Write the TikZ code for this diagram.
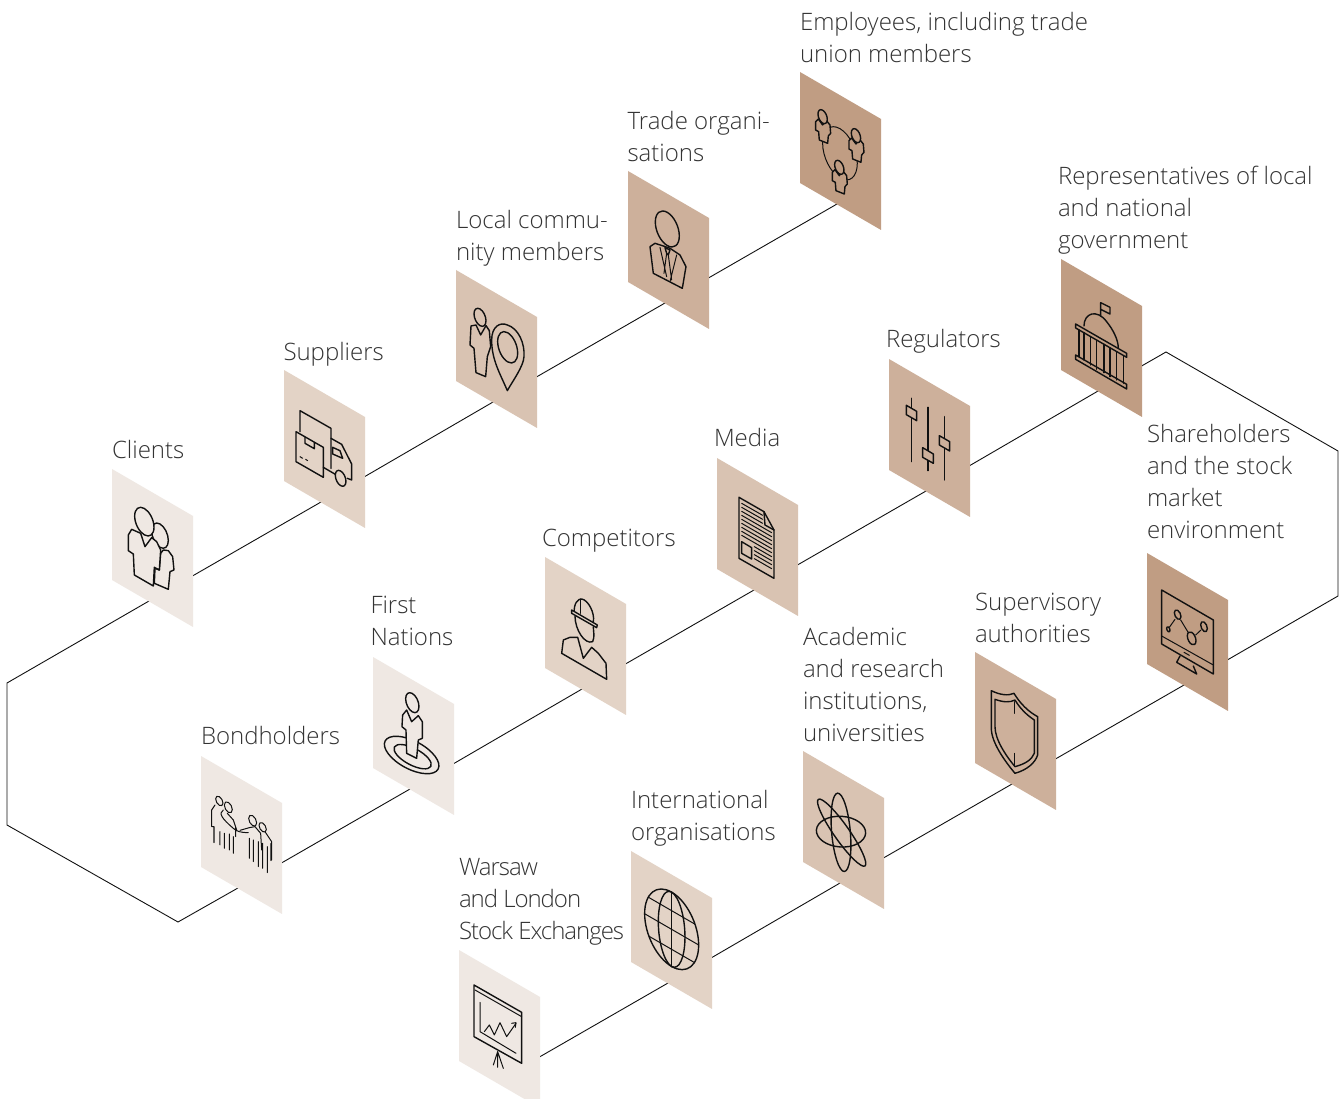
\documentclass[tikz,border=0pt]{standalone}
\usepackage{fontspec}
\setmainfont{Open Sans Light}
\usetikzlibrary{calc}
\pgfdeclarelayer{bg}
\pgfsetlayers{bg,main}
\definecolor{tilea}{HTML}{EFE8E3}
\definecolor{tileb}{HTML}{E3D3C6}
\definecolor{tilec}{HTML}{D9C3B2}
\definecolor{tiled}{HTML}{CDB09B}
\definecolor{tilee}{HTML}{C09D83}
\definecolor{ink}{HTML}{111111}
\definecolor{labelgrey}{HTML}{333333}
\tikzset{
  tileface/.style={draw=none,inner sep=0pt,outer sep=0pt,minimum width=81pt,minimum height=111pt},
  link/.style={draw=ink,line width=0.9pt,line join=miter},
  lab/.style={anchor=north west,inner sep=0pt,outer sep=0pt,align=left,text=labelgrey,
    font=\fontsize{24}{32}\selectfont,execute at begin node=\rule{0pt}{24pt}},
  tight/.style={font=\fontsize{24}{32}\selectfont\addfontfeature{LetterSpace=-4.3}},
  ico/.style={draw=ink,line width=1.4pt,line join=round,line cap=round},
  thin ico/.style={draw=ink,line width=1pt,line join=round,line cap=round},
  zoomframe/.style 2 args={shift={(#1,#2)},x=0.3333pt,y=-0.3333pt},
}
\newcommand{\tile}[4]{%
  \begin{scope}[shift={(#2,#3)},cm={1,-0.58,0,1,(0,0)}]
    \node[tileface,fill=#4,transform shape] (#1) at (40.5,55.5) {};
    \coordinate (#1-c) at (40.5,106.5);
  \end{scope}}
% single-line label: x, baseline
\newcommand{\lab}[4]{\node[lab] (#1) at (#2,#3-25) {#4};}
% several lines: x, first baseline
\newcommand{\labm}[5][]{\node[lab,#1] (#2) at (#3,#4-19) {#5};}
% skewed ellipse: centre x, centre y, half width, half height along the tile
\newcommand{\skewell}[5][]{%
  \begin{scope}[shift={(#2,#3)},cm={1,-0.58,0,1,(0,0)}]
    \path[#1] (0,0) ellipse [x radius=#4,y radius=#5];
  \end{scope}}
\newcommand{\miniperson}[3]{%
  \begin{scope}[shift={(#1,#2)}]
    \path[ico,fill=#3] (-13,7)--(0,25)--(10,10)--(22,25)--(24,50)--(17,58)--(15,80)--(-10,70)--(-12,45)--(-21,40)--(-21,15)--cycle;
    \skewell[ico,fill=#3]{0}{0}{14}{19.4}
  \end{scope}}
\begin{document}
\begin{tikzpicture}[x=1pt,y=-1pt]
\useasboundingbox (0,0) rectangle (1344,1099);

\tile{clients}{112}{469}{tilea}
\tile{suppliers}{284}{370}{tileb}
\tile{local}{456}{270}{tilec}
\tile{trade}{628}{171}{tiled}
\tile{employees}{800}{72}{tilee}
\tile{bond}{201}{756}{tilea}
\tile{first}{373}{657}{tilea}
\tile{comp}{545}{557}{tileb}
\tile{media}{717}{458}{tilec}
\tile{regul}{889}{359}{tiled}
\tile{repr}{1061}{259}{tilee}
\tile{warsaw}{459}{950}{tilea}
\tile{intl}{631}{851}{tileb}
\tile{acad}{803}{751}{tilec}
\tile{superv}{975}{652}{tiled}
\tile{share}{1147}{553}{tilee}

\coordinate (c1) at (7,683);
\coordinate (c2) at (7,825);
\coordinate (c3) at (178,922);
\coordinate (c4) at (1166,352);
\coordinate (c5) at (1338,451);
\coordinate (c6) at (1338,596);

\begin{pgfonlayer}{bg}
\fill[white] (0,0) rectangle (1344,1099);
\draw[link] (employees-c)--(trade-c)--(local-c)--(suppliers-c)--(clients-c)--(c1)--(c2)--(c3)
  --(bond-c)--(first-c)--(comp-c)--(media-c)--(regul-c)--(repr-c)--(c4)--(c5)--(c6)
  --(share-c)--(superv-c)--(acad-c)--(intl-c)--(warsaw-c);
\end{pgfonlayer}

% ---- icons, zoom frame 1
\begin{scope}[zoomframe={100}{360}]
  % clients
  \path[ico,fill=tilea] (165,625)--(163,670)--(205,688)--(210,635)--(222,630)--(218,590)--(205,572)--(190,570)--(182,580)--(178,630)--cycle;
  \skewell[ico,fill=tilea]{180}{527}{25}{35}
  \path[ico,fill=tilea] (122,520)--(135,560)--(155,533)--(170,545)--(182,570)--(178,630)--(163,622)--(160,678)--(103,645)--(100,582)--(85,572)--(85,525)--(95,508)--cycle;
  \skewell[ico,fill=tilea]{133}{485}{29}{39.6}
  % truck
  \path[ico] (600,215)--(600,152)--(693,205)--(693,325);
  \path[ico,fill=tileb] (588,215)--(670,262)--(670,352)--(588,305)--cycle;
  \path[ico] (615,232)--(615,250)--(643,266)--(643,248);
  \path[thin ico] (600,290)--(608,295) (617,298)--(623,302);
  \path[ico] (693,235)--(725,253)--(755,312)--(755,360)--(742,355);
  \path[ico] (698,262)--(720,272)--(728,295)--(698,282)--cycle;
  \path[ico] (670,322)--(706,343);
  \skewell[ico,fill=tileb]{722}{355}{16}{22}
\end{scope}

% ---- icons, zoom frame 2
\begin{scope}[zoomframe={450}{60}]
  % local
  \path[ico] (78,795)--(92,825)--(108,797)--(118,812)--(122,860)--(112,890)--(107,950)--(78,938)--(72,865)--(60,855)--(63,798)--cycle;
  \skewell[ico,fill=tilec]{90}{772}{18}{25}
  \path[ico,fill=tilec] (172,992) .. controls (150,940) and (125,900) .. (125,840) .. controls (125,800) and (150,785) .. (172,795) .. controls (205,805) and (225,850) .. (222,890) .. controls (220,920) and (190,960) .. (172,992) -- cycle;
  \skewell[ico]{173}{862}{30}{43.7}
  % trade
  \path[ico,fill=tiled] (600,560)--(615,550)--(640,558)--(660,565)--(690,585)--(708,620)--(697,685)--(610,640)--cycle;
  \skewell[ico,fill=tiled]{652}{507}{36}{49.8}
  \path[ico] (645,563)--(660,570)--(655,585)--(650,580)--cycle;
  \path[thin ico] (650,580)--(642,640) (655,585)--(665,660) (630,562)--(650,650) (680,585)--(660,665);
  % employees
  \skewell[thin ico]{1170}{280}{52}{74}
  \miniperson{1118}{170}{tilee}
  \miniperson{1218}{227}{tilee}
  \miniperson{1168}{322}{tilee}
\end{scope}

% ---- icons, zoom frame 3
\begin{scope}[zoomframe={190}{650}]
  % bondholders
  \skewell[thin ico]{88}{453}{11}{13}
  \skewell[thin ico]{115}{472}{12}{15}
  \skewell[thin ico]{188}{512}{12}{15}
  \skewell[thin ico]{218}{532}{11}{13}
  \path[thin ico] (75,465)--(65,480)--(65,530)--(72,530)--(72,578)
    (90,545)--(90,585) (103,550)--(103,595) (118,552)--(118,600) (130,560)--(130,610) (137,530)--(137,560)
    (100,480) .. controls (85,490) and (95,505) .. (130,535) .. controls (140,545) and (155,548) .. (175,548)
    (112,490)--(130,510)--(140,540)
    (178,565)--(178,625) (190,570)--(190,635) (205,575)--(205,650) (218,580)--(218,655) (232,590)--(232,668) (243,580)--(243,632)
    (178,533)--(150,541) (178,533)--(195,530)--(212,550)--(215,600)
    (225,545)--(245,575)--(245,630);
  % first nations
  \path[ico] (665,315) ellipse [x radius=90,y radius=42,rotate=-28];
  \path[ico] (668,320) ellipse [x radius=62,y radius=25,rotate=-28];
  \path[ico,fill=tilea] (650,180)--(665,215)--(685,197)--(697,215)--(697,265)--(685,270)--(680,325)--(650,310)--(648,240)--(636,230)--(638,195)--cycle;
  \skewell[ico,fill=tilea]{667}{158}{20}{27.6}
\end{scope}

% ---- icons, zoom frame 4
\begin{scope}[zoomframe={540}{450}]
  % competitors
  \path[ico] (113,562)--(130,625)--(155,592)--(175,610)--(198,640)--(200,688)--(65,610)--(70,570)--(90,562)--cycle;
  \path[ico,fill=tileb] (105,498) .. controls (105,540) and (135,585) .. (158,575) .. controls (165,560) and (160,545) .. (160,530);
  \path[ico] (103,490) .. controls (100,460) and (115,445) .. (125,447) .. controls (145,450) and (165,490) .. (160,515);
  \path[ico,fill=tileb] (95,480)--(172,525)--(170,533)--(95,490)--cycle;
  \path[ico] (122,447)--(122,490);
  % media
  \path[ico] (597,142)--(672,185)--(702,240)--(702,385)--(597,325)--cycle;
  \path[ico] (672,185)--(675,225)--(702,240);
  \foreach \yy in {160,172,184} \path[thin ico] (605,\yy)--(668,\yy+36);
  \foreach \yy in {196,208,220,232,244,256} \path[thin ico] (605,\yy)--(695,\yy+52);
  \foreach \yy in {290,302,314,326} \path[thin ico] (643,\yy)--(695,\yy+30);
  \path[ico] (605,275)--(635,293)--(635,327)--(605,310)--cycle;
\end{scope}

% ---- icons, zoom frame 5
\begin{scope}[zoomframe={880}{250}]
  % regulators
  \path[ico] (95,445)--(95,635) (144,472)--(144,662) (193,500)--(193,690);
  \path[ico,fill=tiled] (79,466)--(110,484)--(110,512)--(79,494)--cycle;
  \path[ico,fill=tiled] (128,593)--(160,612)--(160,640)--(128,622)--cycle;
  \path[ico,fill=tiled] (178,557)--(209,575)--(209,603)--(178,585)--cycle;
  % representatives
  \path[ico] (612,228) .. controls (612,190) and (650,175) .. (680,215) .. controls (700,240) and (715,270) .. (715,295);
  \path[ico] (662,198)--(662,158)--(690,172)--(690,192)--(662,178);
  \path[ico] (587,222)--(740,310)--(740,322)--(587,234)--cycle;
  \path[ico] (587,315)--(740,403)--(740,417)--(587,328)--cycle;
  \path[ico] (597,240)--(597,320) (612,248)--(612,330) (632,262)--(632,345) (650,272)--(650,358)
    (672,283)--(672,368) (690,295)--(690,380) (710,307)--(710,390) (730,318)--(730,400);
\end{scope}

% ---- icons, zoom frame 6
\begin{scope}[zoomframe={450}{840}]
  % warsaw
  \path[ico] (72,435)--(215,517)--(215,670)--(72,590)--cycle;
  \path[thin ico] (75,450)--(215,530);
  \path[thin ico] (90,487)--(90,575)--(198,640);
  \path[thin ico] (103,575)--(118,555)--(133,585)--(150,548)--(170,590)--(198,550);
  \path[thin ico] (185,550)--(198,548)--(196,562);
  \path[thin ico] (143,635)--(130,675) (143,635)--(143,682) (143,635)--(160,685);
  % international
  \begin{scope}
    \clip[shift={(665,268)},cm={1,-0.58,0,1,(0,0)}] (0,0) ellipse [x radius=81,y radius=111.5];
    \path[thin ico] (575,160)--(760,267) (575,216)--(760,323) (575,276)--(760,383);
  \end{scope}
  \skewell[ico]{665}{268}{81}{111.5}
  \skewell[ico]{665}{268}{40}{111.5}
  \path[ico] (665,160)--(665,380);
\end{scope}

% ---- icons, zoom frame 7
\begin{scope}[zoomframe={790}{640}]
  % academic
  \path[ico] (153,575) ellipse [x radius=74,y radius=46,rotate=-4];
  \path[ico] (153,577) ellipse [x radius=118,y radius=28,rotate=-85];
  \path[ico] (155,578) ellipse [x radius=122,y radius=23,rotate=-55];
  % supervisory
  \path[ico] (604,152) .. controls (630,165) and (655,168) .. (672,160) .. controls (690,190) and (715,215) .. (743,230) -- (743,345) .. controls (735,370) and (710,390) .. (675,400) .. controls (650,370) and (604,310) .. (604,265) -- cycle;
  \path[ico] (615,178) .. controls (640,187) and (660,188) .. (675,180) .. controls (690,205) and (710,225) .. (733,240) -- (733,340) .. controls (725,360) and (705,372) .. (675,380) .. controls (650,350) and (615,300) .. (615,260) -- cycle;
  \path[thin ico] (673,185)--(673,220) (673,340)--(673,378);
\end{scope}

% ---- icons, zoom frame 8
\begin{scope}[zoomframe={1130}{540}]
  \path[ico] (95,150)--(250,240)--(250,402)--(95,312)--cycle;
  \path[thin ico] (95,288)--(250,375);
  \path[thin ico] (162,337)--(178,346);
  \path[ico] (150,348)--(140,367)--(200,402)--(190,378);
  \path[thin ico] (118,262)--(135,238) (152,240)--(175,278) (197,285)--(213,270);
  \skewell[ico]{143}{224}{10}{13}
  \skewell[ico]{222}{260}{10}{14}
  \skewell[ico]{185}{295}{13}{18}
  \skewell[ico]{115}{268}{5}{7}
\end{scope}

% ---- labels
\lab{lclients}{112}{459}{Clients}
\lab{lsuppliers}{283.5}{361}{Suppliers}
\labm{llocal}{456}{229}{Local commu-\\nity members}
\labm{ltrade}{627.5}{130}{Trade organi-\\sations}
\labm{lemployees}{800}{31}{Employees, including trade\\union members}
\lab{lbond}{201}{745}{Bondholders}
\labm{lfirst}{370.5}{615}{First\\Nations}
\lab{lcomp}{542}{547}{Competitors}
\lab{lmedia}{714}{447}{Media}
\lab{lregul}{886}{348}{Regulators}
\labm{lrepr}{1058}{185}{Representatives of local\\and national\\government}
\labm{lshare}{1147}{443.5}{Shareholders\\and the stock\\market\\environment}
\labm{lsuperv}{975}{612}{Supervisory\\authorities}
\labm{lacad}{803}{646}{Academic\\and research\\institutions,\\universities}
\labm{lintl}{631}{809}{International\\organisations}
\labm[tight]{lwarsaw}{459}{877}{Warsaw\\and London\\Stock Exchanges}
\end{tikzpicture}
\end{document}
